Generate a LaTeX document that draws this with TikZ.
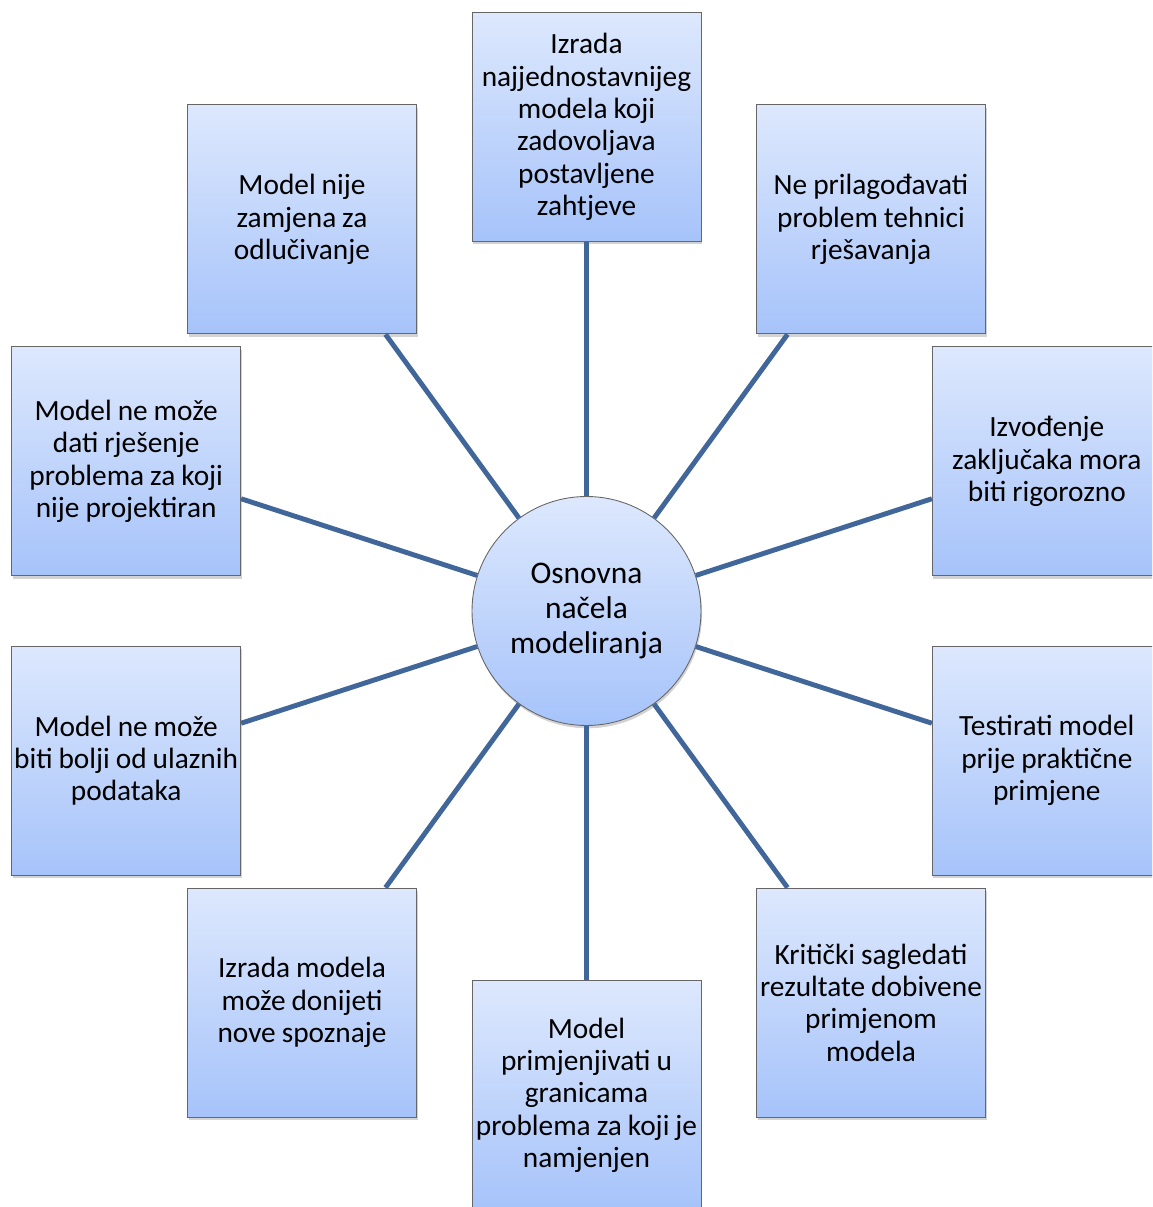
\documentclass[tikz,border=0pt]{standalone}
\usepackage{fontspec}
\setmainfont{Carlito}[WordSpace=0.9]
\usetikzlibrary{shadows}
\definecolor{boxtop}{HTML}{DDE8FD}
\definecolor{boxbot}{HTML}{A6C3FA}
\definecolor{linkblue}{HTML}{41679A}
\tikzset{
    card/.style={draw=gray!80!black, line width=.5pt, top color=boxtop, bottom color=boxbot,
        minimum size=4.58cm, align=center, inner sep=0pt,
        font=\fontsize{16.7}{18.4}\selectfont,
        drop shadow={opacity=.35, shadow xshift=.6pt, shadow yshift=-1.6pt}},
    hub/.style={circle, draw=gray!80!black, line width=.5pt, top color=boxtop, bottom color=boxbot,
        minimum size=4.58cm, align=center, inner sep=0pt,
        font=\fontsize{17.9}{19.9}\selectfont,
        drop shadow={opacity=.35, shadow xshift=.6pt, shadow yshift=-1.6pt}},
    link/.style={draw=linkblue, line width=2.8pt}
}
\begin{document}
\begin{tikzpicture}
    \clip (-11.73,-11.92) rectangle (11.31,12.22);
    \def\r{9.68}
    \node[hub] (c) at (0,0) {Osnovna\\načela\\modeliranja};
    \foreach \i/\a/\txt in {
        1/90/{Izrada\\najjednostavnijeg\\modela koji\\zadovoljava\\postavljene\\zahtjeve},
        2/54/{Ne prilagođavati\\problem tehnici\\rješavanja},
        3/18/{Izvođenje\\zaključaka mora\\biti rigorozno},
        4/-18/{Testirati model\\prije praktične\\primjene},
        5/-54/{Kritički sagledati\\rezultate dobivene\\primjenom\\modela},
        6/-90/{Model\\primjenjivati u\\granicama\\problema za koji je\\namjenjen},
        7/-126/{Izrada modela\\može donijeti\\nove spoznaje},
        8/-162/{Model ne može\\biti bolji od ulaznih\\podataka},
        9/162/{Model ne može\\dati rješenje\\problema za koji\\nije projektiran},
        10/126/{Model nije\\zamjena za\\odlučivanje}}
    {
        \node[card] (b\i) at (\a:\r) {\txt};
        \draw[link] (c) -- (b\i);
    }
\end{tikzpicture}
\end{document}
